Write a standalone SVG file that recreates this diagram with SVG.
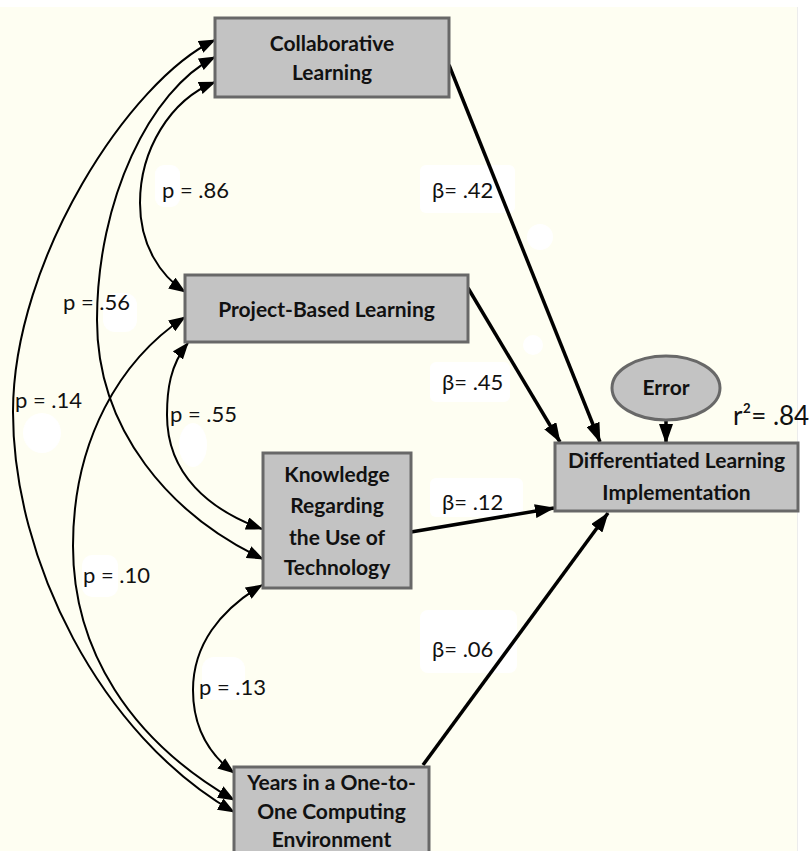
<svg xmlns="http://www.w3.org/2000/svg" width="811" height="851" viewBox="0 0 811 851">
<style>
.node{fill:#c3c3c3;stroke:#686868;stroke-width:3}
.nt{font-family:Lato,"Open Sans","DejaVu Sans",sans-serif;font-weight:bold;font-size:21px;fill:#111;text-anchor:middle}
.lb{font-family:Lato,"Open Sans","DejaVu Sans",sans-serif;font-size:22px;fill:#111}
.cov{fill:none;stroke:#000;stroke-width:2}
.path{fill:none;stroke:#000;stroke-width:3.5}
.bg{fill:#ffffff}
</style>
<defs>
<marker id="ah" markerUnits="userSpaceOnUse" markerWidth="20" markerHeight="14" refX="19" refY="7" orient="auto"><path d="M0,0 L20,7 L0,14 z" fill="#000"/></marker>
<marker id="ch" markerUnits="userSpaceOnUse" markerWidth="17" markerHeight="13" refX="16" refY="6.5" orient="auto-start-reverse"><path d="M0,0 L17,6.5 L0,13 z" fill="#000"/></marker>
</defs>
<rect x="0" y="0" width="811" height="851" fill="#ffffff"/>
<rect x="0" y="7" width="797" height="844" fill="#fefef2"/>
<line x1="797.5" y1="7" x2="797.5" y2="851" stroke="#ececec" stroke-width="1"/>
<g id="label-backgrounds">
<rect class="bg" x="155" y="165" width="25" height="42" rx="9"/>
<rect class="bg" x="420" y="165" width="95" height="48" rx="6"/>
<circle class="bg" cx="540" cy="237" r="13"/>
<rect class="bg" x="103" y="293" width="34" height="39" rx="12"/>
<ellipse class="bg" cx="42" cy="433" rx="19" ry="20"/>
<ellipse class="bg" cx="193" cy="445" rx="14" ry="22"/>
<rect class="bg" x="430" y="362" width="80" height="40" rx="6"/>
<circle class="bg" cx="533" cy="345" r="10"/>
<rect class="bg" x="430" y="478" width="93" height="39" rx="6"/>
<rect class="bg" x="82" y="555" width="36" height="42" rx="10"/>
<rect class="bg" x="420" y="610" width="97" height="63" rx="8"/>
<rect class="bg" x="202" y="657" width="43" height="43" rx="12"/>
</g>
<g id="connectors">
<path class="cov" d="M215,40 C130,80 13,260 13,412 C13,560 100,735 234,812" marker-start="url(#ch)" marker-end="url(#ch)"/>
<path class="cov" d="M215,57 C150,90 97,200 97,320 C97,430 170,515 263,559" marker-start="url(#ch)" marker-end="url(#ch)"/>
<path class="cov" d="M215,82 C170,100 140,150 140,203 C140,245 160,275 185,292" marker-start="url(#ch)" marker-end="url(#ch)"/>
<path class="cov" d="M188,343 C170,365 167,390 167,415 C167,475 210,510 262,529" marker-start="url(#ch)" marker-end="url(#ch)"/>
<path class="cov" d="M185,317 C120,360 73,440 73,546 C73,650 130,740 234,800" marker-start="url(#ch)" marker-end="url(#ch)"/>
<path class="cov" d="M262,585 C220,610 193,645 193,690 C193,730 210,755 234,773" marker-start="url(#ch)" marker-end="url(#ch)"/>
<path class="path" d="M449,65 L600,442" marker-end="url(#ah)"/>
<path class="path" d="M468,288 L560,442" marker-end="url(#ah)"/>
<path class="path" d="M411,532 L554,508" marker-end="url(#ah)"/>
<path class="path" d="M423,765 L608,513" marker-end="url(#ah)"/>
<path class="path" d="M666,420 L666,443" marker-end="url(#ah)"/>
</g>
<g id="collaborative-learning">
<rect class="node" x="215" y="18" width="234" height="79"/>
<text class="nt" x="332" y="51">Collaborative</text>
<text class="nt" x="332" y="80">Learning</text>
</g>
<g id="project-based-learning">
<rect class="node" x="185" y="275" width="283" height="67"/>
<text class="nt" x="326.5" y="317">Project-Based Learning</text>
</g>
<g id="knowledge-technology">
<rect class="node" x="263" y="453" width="148" height="135"/>
<text class="nt" x="337" y="482">Knowledge</text>
<text class="nt" x="337" y="513">Regarding</text>
<text class="nt" x="337" y="545">the Use of</text>
<text class="nt" x="337" y="575">Technology</text>
</g>
<g id="years-one-to-one">
<rect class="node" x="234" y="767" width="195" height="110"/>
<text class="nt" x="331.5" y="790">Years in a One-to-</text>
<text class="nt" x="331.5" y="819">One Computing</text>
<text class="nt" x="331.5" y="847">Environment</text>
</g>
<g id="differentiated-learning">
<rect class="node" x="555" y="443" width="243" height="68"/>
<text class="nt" x="676.5" y="468">Differentiated Learning</text>
<text class="nt" x="676.5" y="500">Implementation</text>
</g>
<g id="error">
<ellipse class="node" cx="666" cy="388" rx="54" ry="32"/>
<text class="nt" x="666" y="395">Error</text>
</g>
<g id="labels">
<text class="lb" x="162" y="198">p = .86</text>
<text class="lb" x="432" y="198">β= .42</text>
<text class="lb" x="63" y="310">p = .56</text>
<text class="lb" x="15" y="408">p = .14</text>
<text class="lb" x="170" y="422">p = .55</text>
<text class="lb" x="442" y="390">β= .45</text>
<text class="lb" x="442" y="510">β= .12</text>
<text class="lb" x="83" y="583">p = .10</text>
<text class="lb" x="432" y="657">β= .06</text>
<text class="lb" x="199" y="695">p = .13</text>
<text class="lb" x="733" y="425" style="font-size:26px">r²= .84</text>
</g>
</svg>
